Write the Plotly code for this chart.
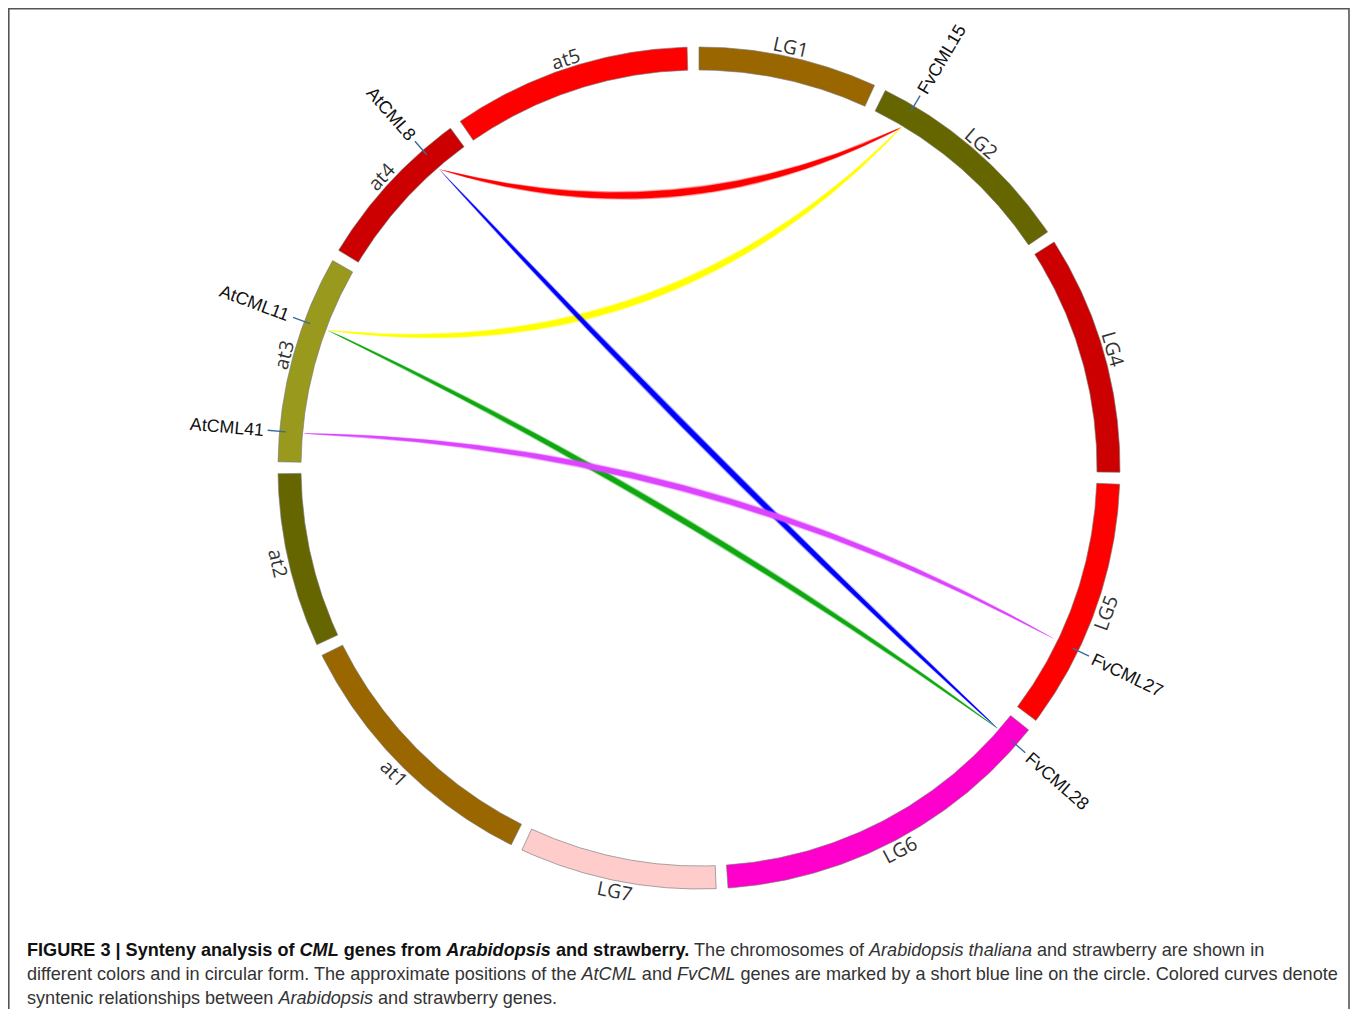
import numpy as np
import plotly.graph_objects as go

# ---------------- data ----------------
chrom_names = ["LG1", "LG2", "LG4", "LG5", "LG6", "LG7", "at1", "at2", "at3", "at4", "at5"]
chrom_sizes = [20.2, 24.3, 27.1, 28.4, 39.0, 22.3, 30.4, 19.7, 23.5, 18.6, 27.0]  # Mb
chrom_colors = ["rgb(153,102,0)", "rgb(102,102,0)", "rgb(204,0,0)", "rgb(255,0,0)",
                "rgb(255,0,204)", "rgb(255,204,204)", "rgb(153,102,0)", "rgb(102,102,0)",
                "rgb(153,153,30)", "rgb(204,0,0)", "rgb(255,0,0)"]

gene_names = ["FvCML15", "FvCML27", "FvCML28", "AtCML41", "AtCML11", "AtCML8"]
gene_chroms = ["LG2", "LG5", "LG6", "at3", "at3", "at4"]
gene_pos = [3.64, 19.3, 2.16, 3.4, 16.0, 14.65]  # Mb

link_from = ["AtCML8", "AtCML11", "AtCML8", "AtCML11", "AtCML41"]
link_to = ["FvCML15", "FvCML15", "FvCML28", "FvCML28", "FvCML27"]
link_colors = ["#ff0000", "#ffff00", "#0000ff", "#10a810", "#dd44ff"]

caption_lines = [
    "<b>FIGURE 3 | Synteny analysis of <i>CML</i> genes from <i>Arabidopsis</i> and strawberry.</b>"
    "<span style='color:#333'> The chromosomes of <i>Arabidopsis thaliana</i> and strawberry are shown in</span>",
    "<span style='color:#333'>different colors and in circular form. The approximate positions of the <i>AtCML</i> and "
    "<i>FvCML</i> genes are marked by a short blue line on the circle. Colored curves denote</span>",
    "<span style='color:#333'>syntenic relationships between <i>Arabidopsis</i> and strawberry genes.</span>",
]

# ---------------- style / geometry ----------------
W, H = 1358, 1017
OFF = 8  # default page body margin (both sides)
CX, CY = 699.0, 468.0
R_OUT, R_IN = 421.0, 398.0
R_LINK = 396.0
GAP = 1.62  # degrees between chromosomes
link_ctrl_r = [231, 103, 12, 35, -24]  # bezier control radius per link (style)
link_wmax = [6.5, 6.0, 5.0, 5.0, 5.5]

total = sum(chrom_sizes)
k = (360.0 - GAP * len(chrom_sizes)) / total
starts = {}
ang = 0.0
chrom_range = []
for n, s in zip(chrom_names, chrom_sizes):
    starts[n] = ang
    chrom_range.append((ang, ang + s * k))
    ang += s * k + GAP


def pt(theta_deg, r):
    t = np.radians(theta_deg)
    return CX + r * np.sin(t), CY - r * np.cos(t)


gene_angle = {g: starts[c] + p * k for g, c, p in zip(gene_names, gene_chroms, gene_pos)}

fig = go.Figure()

# ---------------- links ----------------
for a, b, col, cr, wm in zip(link_from, link_to, link_colors, link_ctrl_r, link_wmax):
    ta, tb = gene_angle[a], gene_angle[b]
    p0 = np.array(pt(ta, R_LINK))
    p2 = np.array(pt(tb, R_LINK))
    d = (tb - ta) % 360
    if d > 180:
        d -= 360
    mid = ta + d / 2
    c = np.array(pt(mid, cr))
    t = np.linspace(0, 1, 300)[:, None]
    curve = (1 - t) ** 2 * p0 + 2 * (1 - t) * t * c + t ** 2 * p2
    deriv = 2 * (1 - t) * (c - p0) + 2 * t * (p2 - c)
    nrm = np.stack([-deriv[:, 1], deriv[:, 0]], axis=1)
    nrm /= np.linalg.norm(nrm, axis=1)[:, None]
    tt = t[:, 0]
    for extra, op in [(3.0, 0.22), (1.4, 0.45), (0.0, 1.0)]:
        w = (0.5 + (wm - 0.5) * np.sin(np.pi * tt) ** 0.9 + extra * np.sin(np.pi * tt) ** 0.5) / 2
        left = curve + nrm * w[:, None]
        right = curve - nrm * w[:, None]
        poly = np.vstack([left, right[::-1], left[:1]])
        fig.add_trace(go.Scatter(x=poly[:, 0], y=poly[:, 1], mode="lines", fill="toself",
                                 fillcolor=col, line=dict(width=0), opacity=op,
                                 hoverinfo="skip", showlegend=False))

# ---------------- chromosome segments ----------------
for n, (a0, a1), col in zip(chrom_names, chrom_range, chrom_colors):
    th = np.linspace(a0, a1, 120)
    xo, yo = pt(th, R_OUT)
    xi, yi = pt(th[::-1], R_IN)
    xs = np.concatenate([xo, xi, xo[:1]])
    ys = np.concatenate([yo, yi, yo[:1]])
    fig.add_trace(go.Scatter(x=xs, y=ys, mode="lines", fill="toself", fillcolor=col,
                             line=dict(color="rgba(120,120,120,0.8)", width=0.8),
                             hoverinfo="skip", showlegend=False))
    m = (a0 + a1) / 2
    lx, ly = pt(m, 431)
    ta = m - 180 if 90 < m < 270 else m
    if ta > 180:
        ta -= 360
    fig.add_annotation(x=lx, y=ly, text=n, showarrow=False, textangle=ta,
                       xanchor="center", yanchor="middle",
                       font=dict(family="Open Sans", size=19.5, color="#333"))

# ---------------- gene ticks and labels ----------------
cw = {"A": .667, "t": .278, "C": .722, "M": .833, "L": .556, "F": .611, "v": .5}
GFS = 17.8
for g in gene_names:
    th = gene_angle[g]
    x0, y0 = pt(th, 415)
    x1, y1 = pt(th, 433)
    fig.add_trace(go.Scatter(x=[x0, x1], y=[y0, y1], mode="lines",
                             line=dict(color="#3b6a9c", width=1.4),
                             hoverinfo="skip", showlegend=False))
    wtxt = sum(cw.get(ch, .556) for ch in g) * GFS
    lx, ly = pt(th, 437 + wtxt / 2)
    ta = th - 90 if th < 180 else th - 270
    fig.add_annotation(x=lx, y=ly, text=g, showarrow=False, textangle=ta,
                       xanchor="center", yanchor="middle",
                       font=dict(family="Liberation Sans", size=GFS, color="#111"))

# ---------------- caption ----------------
for i, line in enumerate(caption_lines):
    fig.add_annotation(x=25, y=950 + 24.2 * i, text=line, showarrow=False,
                       xanchor="left", yanchor="middle", align="left",
                       font=dict(family="Liberation Sans", size=18.1, color="#111"))

# frame
fig.add_shape(type="rect", x0=8.8, y0=8.8, x1=W - OFF - 1, y1=1040,
              line=dict(color="#555", width=1.6), layer="above")

fig.update_layout(
    width=W - 2 * OFF, height=H - 2 * OFF, margin=dict(l=0, r=0, t=0, b=0),
    paper_bgcolor="white", plot_bgcolor="white",
    xaxis=dict(range=[OFF, W - OFF], visible=False, fixedrange=True),
    yaxis=dict(range=[H - OFF, OFF], visible=False, fixedrange=True),
    showlegend=False,
)

fig.write_html("out.html")
